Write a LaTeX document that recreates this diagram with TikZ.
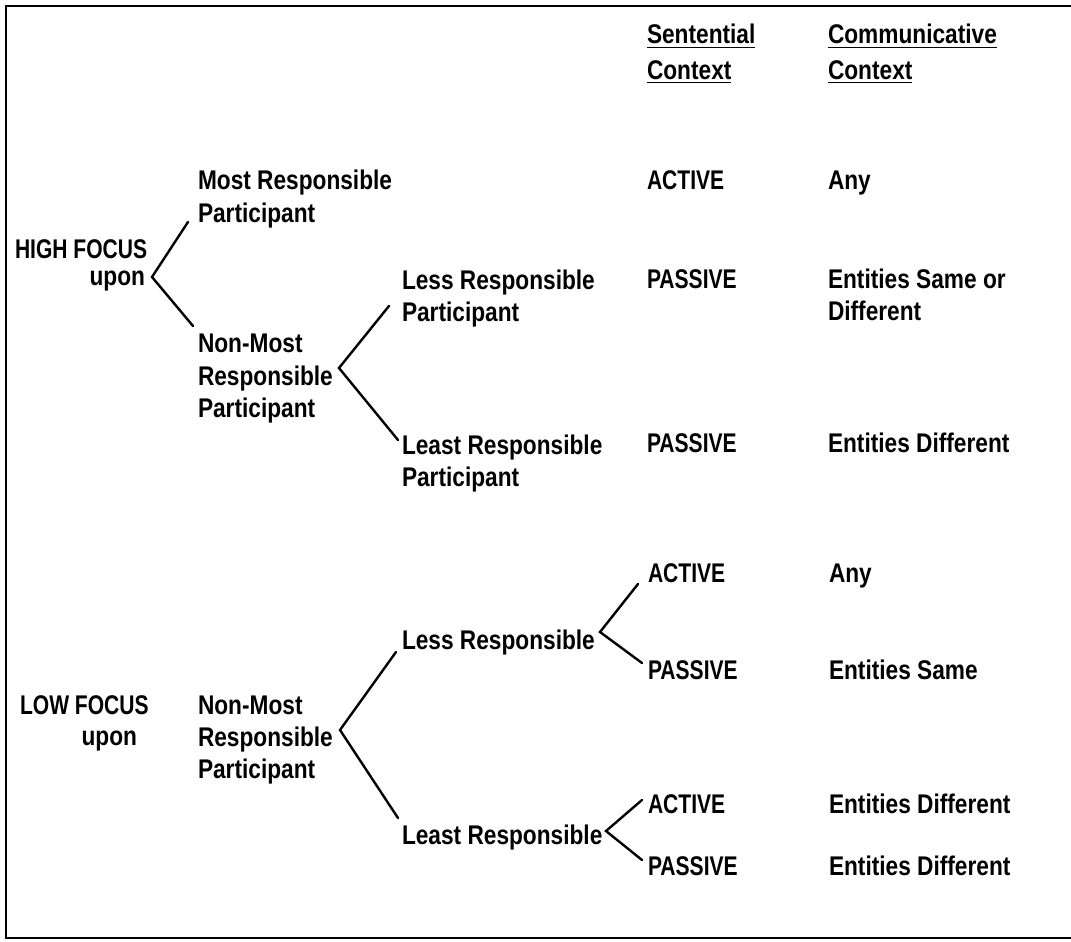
\documentclass[tikz,border=0pt]{standalone}
\usepackage{fontspec}
\newfontfamily\diag{Liberation Sans}[FakeStretch=0.84]
\newfontfamily\diagcaps{Liberation Sans}[FakeStretch=0.78]
\newcommand\dfont{\diag\bfseries\fontsize{27}{32}\selectfont}
\newcommand\dcfont{\diagcaps\bfseries\fontsize{27}{32}\selectfont}
\begin{document}
\begin{tikzpicture}[x=1pt,y=-1pt,
  txt/.style={inner sep=0pt, outer sep=0pt, anchor=base west, font=\dfont},
  ctxt/.style={txt, font=\dcfont},
  rtxt/.style={txt, anchor=base east},
  br/.style={line width=2.4pt, line cap=round, line join=miter},
  frame/.style={line width=2.6pt},
  ul/.style={line width=1.9pt}]
\useasboundingbox (0,0) rectangle (1071,942);
% frame
\coordinate (f1) at (1071,6);
\coordinate (f2) at (6,6);
\coordinate (f3) at (6,938);
\coordinate (f4) at (1071,938);
\draw[frame] (f1) -- (f2) -- (f3) -- (f4);

% column headings
\node[txt] (sc1) at (647,44) {Sentential};
\node[txt] (sc2) at (647,79) {Context};
\node[txt] (cc1) at (828,44) {Communicative};
\node[txt] (cc2) at (828,79) {Context};
\foreach \n in {sc1,sc2,cc1,cc2}
  \draw[ul] ([yshift=-3.5pt]\n.base west) -- ([yshift=-3.5pt]\n.base east);

% upper tree
\node[ctxt] (hf1) at (15,258) {HIGH FOCUS};
\node[rtxt] (hf2) at (145,285) {upon};
\node[txt] (mr1) at (198,189) {Most Responsible};
\node[txt] (mr2) at (198,222) {Participant};
\node[txt] (nm1) at (198,352) {Non-Most};
\node[txt] (nm2) at (198,385) {Responsible};
\node[txt] (nm3) at (198,417) {Participant};
\node[txt] (lr1) at (402,289) {Less Responsible};
\node[txt] (lr2) at (402,321) {Participant};
\node[txt] (ls1) at (402,454) {Least Responsible};
\node[txt] (ls2) at (402,486) {Participant};
\node[ctxt] (s1) at (647,189) {ACTIVE};
\node[ctxt] (s2) at (647,288) {PASSIVE};
\node[ctxt] (s3) at (647,452) {PASSIVE};
\node[txt] (c1) at (828,189) {Any};
\node[txt] (c2a) at (828,288) {Entities Same or};
\node[txt] (c2b) at (828,320) {Different};
\node[txt] (c3) at (828,452) {Entities Different};

\coordinate (b1a) at (152,277); \coordinate (b1u) at (188,222); \coordinate (b1l) at (193,326);
\coordinate (b2a) at (339,368); \coordinate (b2u) at (389,306); \coordinate (b2l) at (398,440);
\draw[br] (b1u) -- (b1a) -- (b1l);
\draw[br] (b2u) -- (b2a) -- (b2l);

% lower tree
\node[ctxt] (lf1) at (20,714) {LOW FOCUS};
\node[rtxt] (lf2) at (137,745) {upon};
\node[txt] (ln1) at (198,714) {Non-Most};
\node[txt] (ln2) at (198,746) {Responsible};
\node[txt] (ln3) at (198,778) {Participant};
\node[txt] (ll1) at (402,649) {Less Responsible};
\node[txt] (ll2) at (402,844) {Least Responsible};
\node[ctxt] (t1) at (648,582) {ACTIVE};
\node[ctxt] (t2) at (648,679) {PASSIVE};
\node[ctxt] (t3) at (648,813) {ACTIVE};
\node[ctxt] (t4) at (648,875) {PASSIVE};
\node[txt] (d1) at (829,582) {Any};
\node[txt] (d2) at (829,679) {Entities Same};
\node[txt] (d3) at (829,813) {Entities Different};
\node[txt] (d4) at (829,875) {Entities Different};

\coordinate (b3a) at (340,730); \coordinate (b3u) at (396,652); \coordinate (b3l) at (398,818);
\coordinate (b4a) at (600,632); \coordinate (b4u) at (638,584); \coordinate (b4l) at (642,663);
\coordinate (b5a) at (606,831); \coordinate (b5u) at (642,800); \coordinate (b5l) at (642,860);
\draw[br] (b3u) -- (b3a) -- (b3l);
\draw[br] (b4u) -- (b4a) -- (b4l);
\draw[br] (b5u) -- (b5a) -- (b5l);
\end{tikzpicture}
\end{document}
